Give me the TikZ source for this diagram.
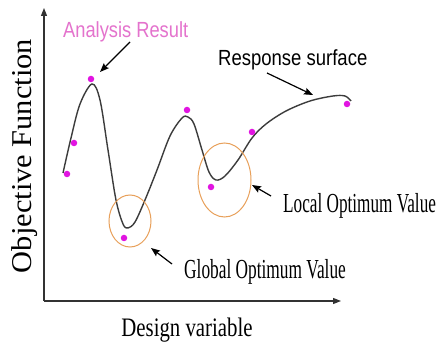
\documentclass[tikz,border=0pt]{standalone}
\usepackage{fontspec}
\setmainfont{Liberation Serif}
\newfontfamily\labelsans{Liberation Sans}
\usetikzlibrary{shapes.geometric,arrows.meta}

% horizontally condensed text
\newcommand{\hsq}[2]{\scalebox{#1}[1]{#2}}

\definecolor{curvegray}{RGB}{60,60,60}
\definecolor{axisgray}{RGB}{50,50,50}
\definecolor{dotmag}{RGB}{225,20,225}
\definecolor{ringorange}{RGB}{232,160,90}
\definecolor{labelpink}{RGB}{228,115,205}

\tikzset{
  axisline/.style={draw=axisgray, line width=1.3pt, -{Triangle[length=8pt,width=6pt]}},
  callout/.style={draw=black, line width=1.2pt, -{Stealth[length=9pt,width=7pt,inset=1.5pt]}},
  sample/.style={circle, fill=dotmag, inner sep=0pt, minimum size=6.5pt},
  ring/.style={ellipse, draw=ringorange, line width=1pt, inner sep=0pt},
  serifbig/.style={inner sep=0pt, font=\fontsize{27.5}{30}\selectfont, text=black},
  sanslab/.style={inner sep=0pt, font=\labelsans\fontsize{21.9}{24}\selectfont},
}

\begin{document}
\begin{tikzpicture}[x=1pt, y=-1pt]
  \useasboundingbox (0,0) rectangle (439,344);
  \fill[white] (0,0) rectangle (439,344);

  % axes
  \coordinate (origin) at (44,301);
  \coordinate (ytop) at (44,8);
  \coordinate (xend) at (341,301);
  \draw[axisline] (origin) -- (ytop);
  \draw[axisline] (origin) -- (xend);

  % axis titles
  \node[serifbig, font=\fontsize{28.7}{30}\selectfont, rotate=90, anchor=base] (ylab)
    at (31.7,156) {\hsq{1.06}{Objective Function}};
  \node[serifbig, font=\fontsize{26.7}{30}\selectfont, anchor=base] (xlab)
    at (187,336.7) {\hsq{0.78}{Design variable}};

  % response surface
  \draw[curvegray, line width=1.4pt] plot[smooth, tension=0.55] coordinates {
    (63,173) (71,138) (80,104) (92,84) (100,100) (108,150) (116,200)
    (123,224) (128,228) (135,222) (145,200) (157,170) (170,136)
    (182,118) (188,117) (194,124) (202,150) (209,172) (216,180)
    (225,176) (238,160) (252,138) (266,124) (286,111) (310,101)
    (333,96) (345,96) (351,101)};

  % sampled analysis results
  \node[sample] (s1) at (67,174) {};
  \node[sample] (s2) at (74,143) {};
  \node[sample] (s3) at (91,79) {};
  \node[sample] (s4) at (124,238) {};
  \node[sample] (s5) at (187,110) {};
  \node[sample] (s6) at (211,187) {};
  \node[sample] (s7) at (252,132) {};
  \node[sample] (s8) at (347,104) {};

  % optimum rings
  \node[ring, minimum width=42pt, minimum height=52pt] (gring) at (130,221) {};
  \node[ring, minimum width=53pt, minimum height=74pt] (lring) at (224.5,180) {};

  % labels
  \node[sanslab, text=labelpink, anchor=base west] (alab) at (63,37.3)
    {\hsq{0.835}{Analysis Result}};
  \node[sanslab, text=black, anchor=base west] (rlab) at (218,65.7)
    {\hsq{0.845}{Response surface}};
  \node[serifbig, anchor=base west] (glab) at (184,279)
    {\hsq{0.63}{Global Optimum Value}};
  \node[serifbig, anchor=base west] (llab) at (283,213)
    {\hsq{0.625}{Local Optimum Value}};

  % callout arrows
  \coordinate (aS) at (130,42);   \coordinate (aT) at (100,72);
  \coordinate (rS) at (267,73);   \coordinate (rT) at (313,95);
  \coordinate (gS) at (172,264);  \coordinate (gT) at (151,248);
  \coordinate (lS) at (271,196);  \coordinate (lT) at (252,185);
  \draw[callout] (aS) -- (aT);
  \draw[callout] (rS) -- (rT);
  \draw[callout] (gS) -- (gT);
  \draw[callout] (lS) -- (lT);
\end{tikzpicture}
\end{document}
